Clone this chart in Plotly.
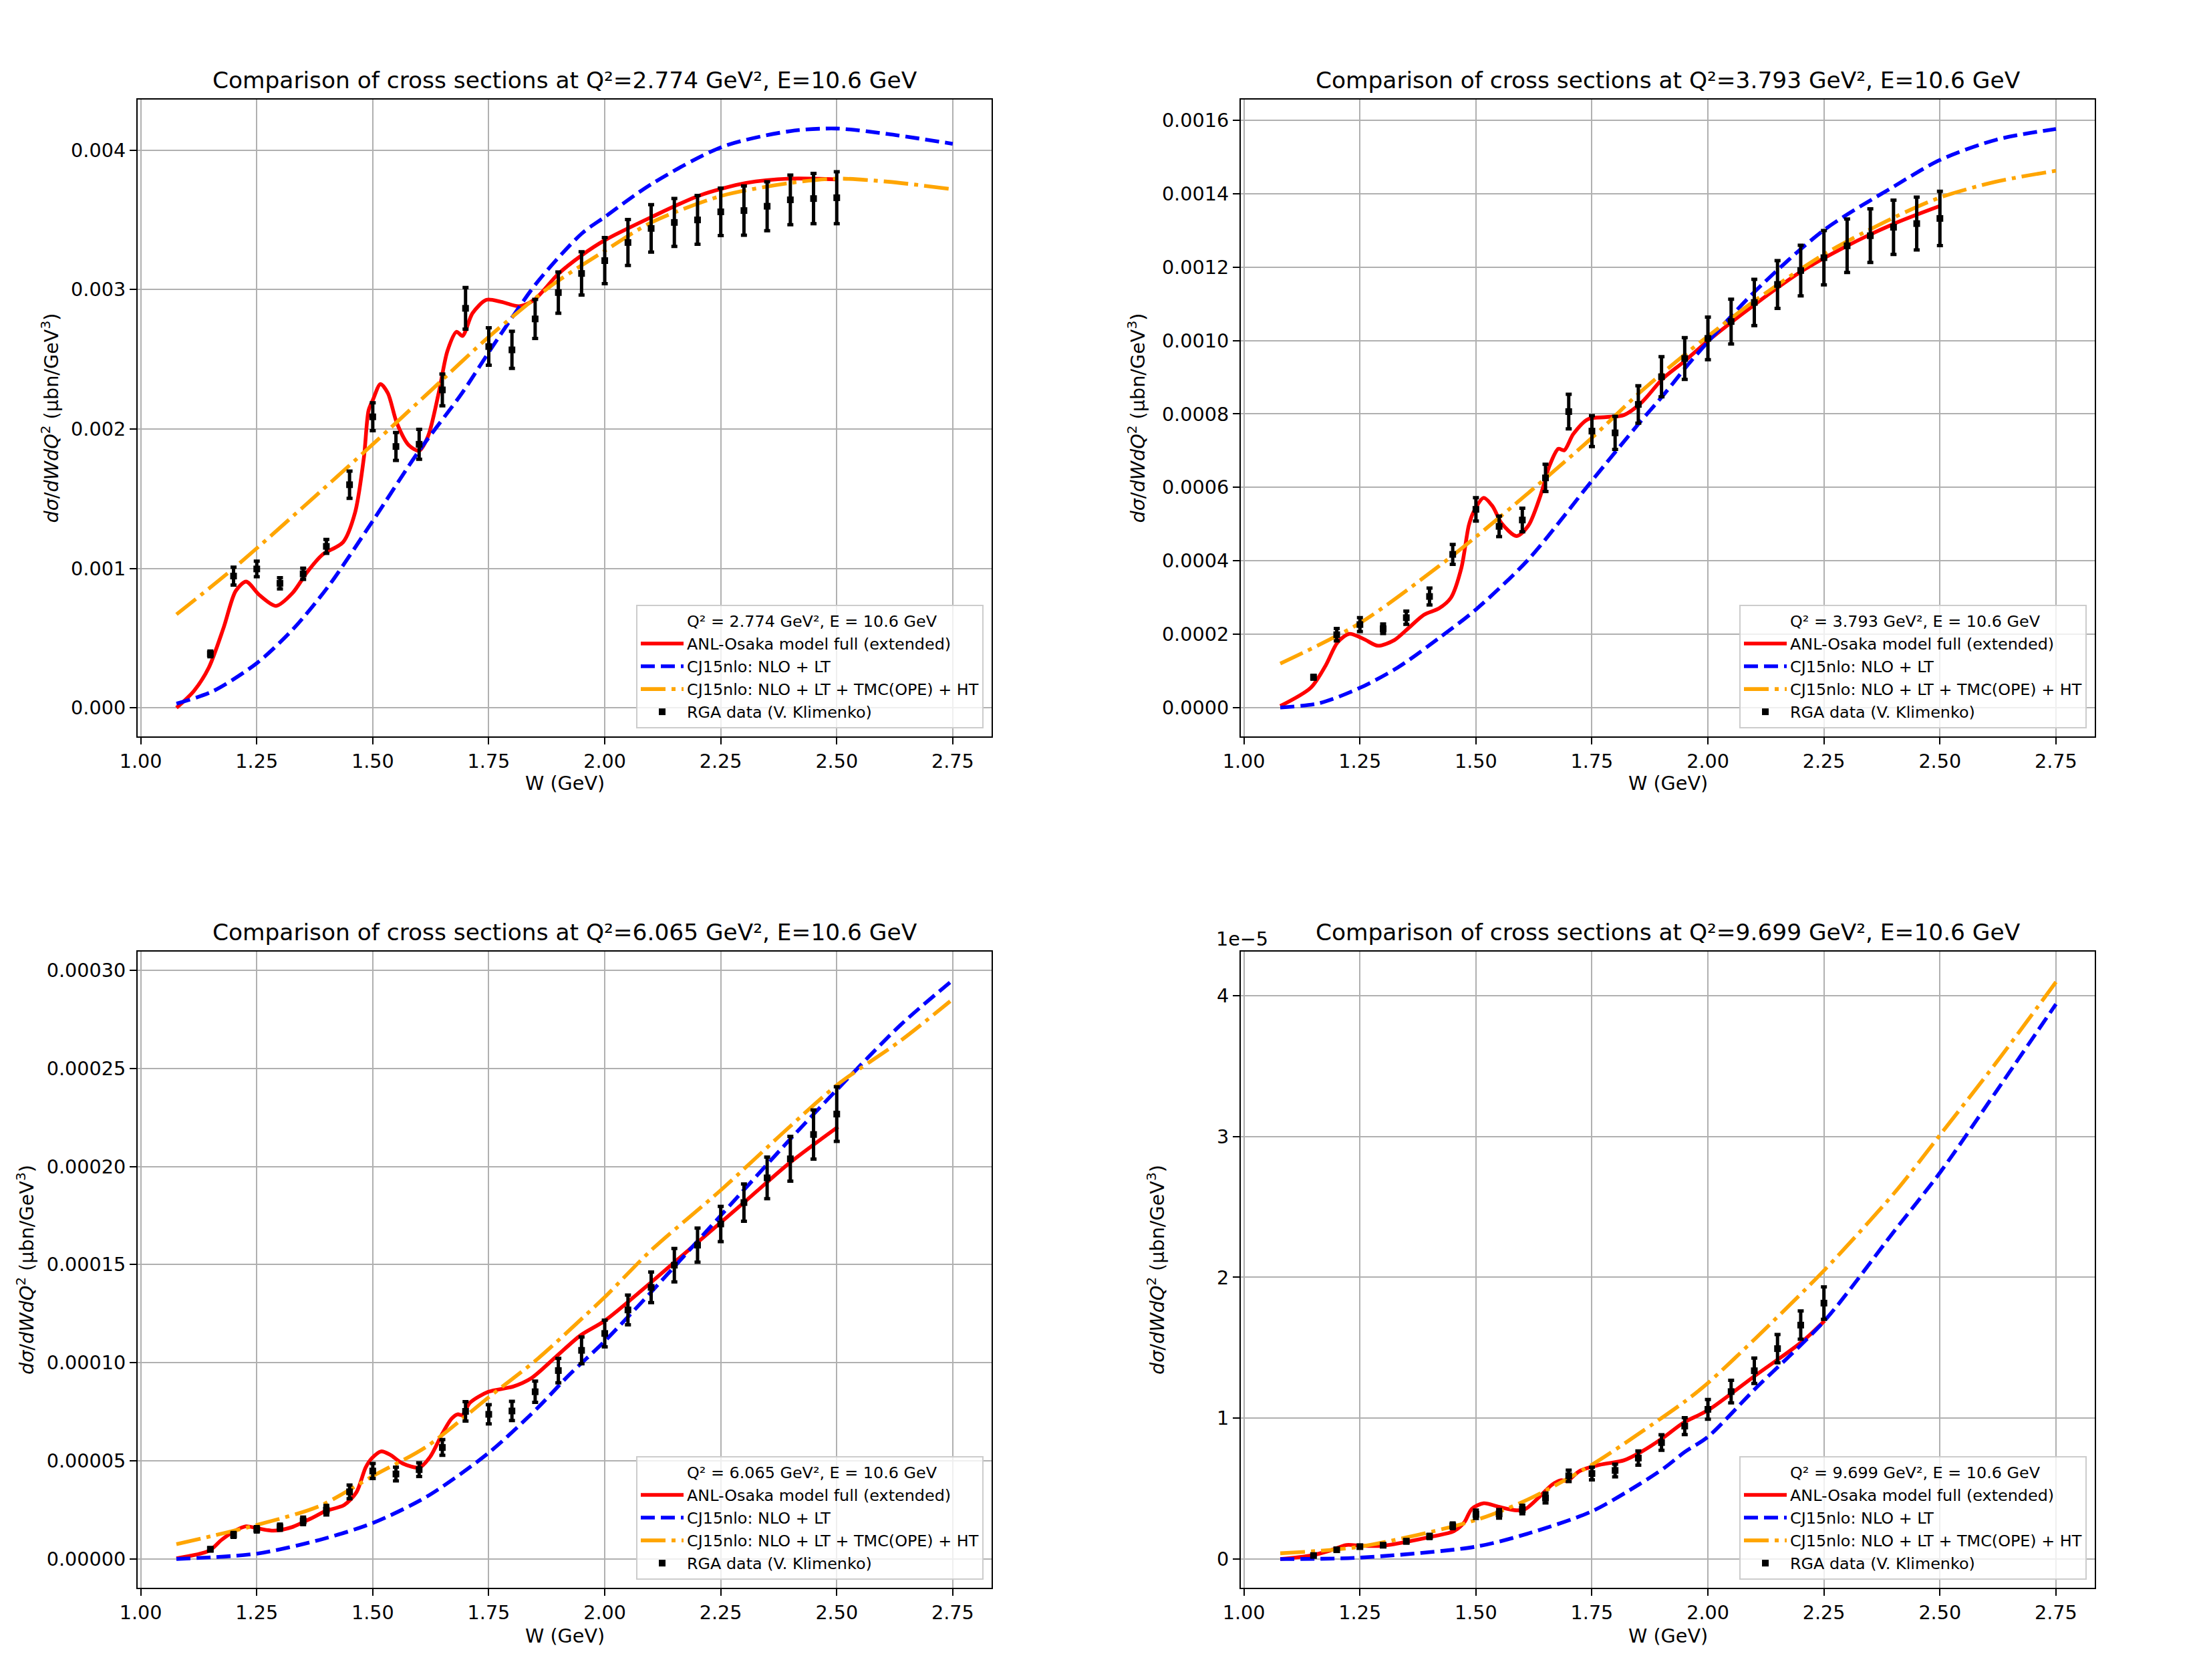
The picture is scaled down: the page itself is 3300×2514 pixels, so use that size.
import plotly.graph_objects as go

# ---------------- data ----------------
W_RGA = [1.15, 1.20, 1.25, 1.30, 1.35, 1.40, 1.45, 1.50, 1.55, 1.60, 1.65, 1.70, 1.75, 1.80,
         1.85, 1.90, 1.95, 2.00, 2.05, 2.10, 2.15, 2.20, 2.25, 2.30, 2.35, 2.40, 2.45, 2.50]
W_RGA_Q4 = [1.15, 1.20, 1.25, 1.30, 1.35, 1.40, 1.45, 1.50, 1.55, 1.60, 1.65, 1.70, 1.75, 1.80,
            1.85, 1.90, 1.95, 2.00, 2.05, 2.10, 2.15, 2.20, 2.25]

# Panel 1: Q2 = 2.774 (values in units of 1e-3)
Q1_SCALE = 1e-3
Q1_DATA = [0.387, 0.945, 0.996, 0.893, 0.961, 1.158, 1.600, 2.087, 1.874, 1.890, 2.280, 2.865,
           2.591, 2.567, 2.789, 2.978, 3.115, 3.207, 3.337, 3.438, 3.481, 3.499, 3.557, 3.566,
           3.597, 3.643, 3.652, 3.658]
Q1_ERR = [0.02, 0.064, 0.056, 0.04, 0.04, 0.05, 0.098, 0.10, 0.10, 0.107, 0.114, 0.149, 0.134,
          0.133, 0.14, 0.148, 0.155, 0.165, 0.165, 0.17, 0.172, 0.175, 0.17, 0.177, 0.175, 0.178,
          0.18, 0.186]
Q1_ANL_W = [1.077, 1.1146, 1.1467, 1.1789, 1.2046, 1.2271, 1.256, 1.2915, 1.3268, 1.359, 1.391,
            1.436, 1.462, 1.481, 1.491, 1.5005, 1.5166, 1.5327, 1.552, 1.5777, 1.600, 1.6194,
            1.642, 1.661, 1.6806, 1.6934, 1.715, 1.745, 1.777, 1.8157, 1.848, 1.899, 1.9507,
            2.0, 2.1017, 2.2033, 2.3048, 2.400, 2.50]
Q1_ANL = [0.0, 0.121, 0.289, 0.578, 0.838, 0.905, 0.808, 0.731, 0.822, 0.975, 1.097, 1.188,
          1.402, 1.798, 2.133, 2.21, 2.322, 2.256, 2.042, 1.883, 1.844, 1.95, 2.256, 2.56, 2.697,
          2.667, 2.83, 2.926, 2.911, 2.880, 2.926, 3.109, 3.246, 3.353, 3.521, 3.673, 3.764,
          3.795, 3.789]
Q1_LT_W = [1.077, 1.156, 1.25, 1.327, 1.404, 1.5, 1.597, 1.693, 1.758, 1.854, 1.95, 2.0, 2.10,
           2.253, 2.40, 2.50, 2.61, 2.75]
Q1_LT = [0.03, 0.12, 0.32, 0.56, 0.87, 1.34, 1.83, 2.26, 2.59, 3.05, 3.40, 3.52, 3.755, 4.023,
         4.136, 4.154, 4.115, 4.045]
Q1_HT_W = [1.077, 1.2, 1.35, 1.5, 1.63, 1.75, 1.89, 2.0, 2.1, 2.25, 2.4, 2.5, 2.61, 2.75]
Q1_HT = [0.67, 1.0, 1.44, 1.89, 2.29, 2.66, 3.04, 3.277, 3.48, 3.67, 3.764, 3.795, 3.773, 3.719]

# Panel 2: Q2 = 3.793 (units of 1e-4)
Q2_SCALE = 1e-4
Q2_DATA = [0.825, 1.984, 2.26, 2.145, 2.447, 3.026, 4.173, 5.40, 4.937, 5.11, 6.258, 8.065,
           7.533, 7.486, 8.26, 9.015, 9.513, 10.06, 10.52, 11.04, 11.53, 11.91, 12.26, 12.585,
           12.86, 13.09, 13.19, 13.33]
Q2_ERR = [0.05, 0.17, 0.19, 0.13, 0.18, 0.23, 0.27, 0.32, 0.28, 0.32, 0.37, 0.47, 0.42, 0.45,
          0.51, 0.545, 0.57, 0.58, 0.61, 0.63, 0.65, 0.69, 0.74, 0.73, 0.73, 0.74, 0.72, 0.74]
Q2_ANL_W = [1.0783, 1.1439, 1.176, 1.2018, 1.2275, 1.2596, 1.2886, 1.3239, 1.3561, 1.3883,
            1.4204, 1.4461, 1.4686, 1.4846, 1.4942, 1.5168, 1.5361, 1.5553, 1.5876, 1.6132,
            1.639, 1.6583, 1.6776, 1.6904, 1.7097, 1.7418, 1.7804, 1.819, 1.8576, 1.9025,
            1.9476, 2.0007, 2.1004, 2.2019, 2.3004, 2.4019, 2.5004]
Q2_ANL = [0.038, 0.535, 1.14, 1.775, 2.007, 1.857, 1.683, 1.833, 2.18, 2.528, 2.70, 2.99, 3.80,
          4.96, 5.31, 5.715, 5.48, 5.02, 4.672, 4.96, 5.77, 6.58, 7.05, 7.01, 7.45, 7.86, 7.915,
          7.97, 8.32, 8.96, 9.42, 10.0, 10.98, 11.89, 12.585, 13.19, 13.67]
Q2_LT_W = [1.0783, 1.1632, 1.25, 1.3304, 1.4204, 1.5, 1.6132, 1.75, 1.8511, 1.9064, 1.9508, 2.0,
           2.1004, 2.2497, 2.4019, 2.5004, 2.6228, 2.7501]
Q2_LT = [0.0, 0.118, 0.535, 1.08, 1.89, 2.67, 4.035, 6.18, 7.74, 8.55, 9.25, 9.965, 11.33, 13.01,
         14.21, 14.925, 15.48, 15.77]
Q2_HT_W = [1.0783, 1.25, 1.42, 1.5, 1.6132, 1.75, 1.85, 1.95, 2.0, 2.1, 2.25, 2.40, 2.50, 2.62,
           2.75]
Q2_HT = [1.195, 2.30, 3.85, 4.65, 5.85, 7.35, 8.55, 9.62, 10.12, 11.08, 12.35, 13.35, 13.9, 14.33,
         14.63]

# Panel 3: Q2 = 6.065 (units of 1e-5)
Q3_SCALE = 1e-5
Q3_DATA = [0.49, 1.225, 1.51, 1.617, 1.94, 2.485, 3.42, 4.48, 4.33, 4.55, 5.68, 7.52, 7.37,
           7.54, 8.52, 9.6, 10.63, 11.49, 12.69, 13.84, 14.97, 15.99, 17.07, 18.16, 19.42,
           20.39, 21.63, 22.67]
Q3_ERR = [0.08, 0.12, 0.14, 0.16, 0.19, 0.24, 0.35, 0.38, 0.35, 0.35, 0.40, 0.49, 0.49, 0.49,
          0.54, 0.62, 0.68, 0.68, 0.76, 0.78, 0.85, 0.87, 0.90, 0.95, 1.06, 1.14, 1.25, 1.39]
Q3_ANL_W = [1.0768, 1.1475, 1.174, 1.2005, 1.2268, 1.25, 1.2864, 1.326, 1.3658, 1.3988, 1.4385,
            1.4649, 1.4847, 1.498, 1.5179, 1.5376, 1.5641, 1.6005, 1.6236, 1.65, 1.6699,
            1.6831, 1.693, 1.7095, 1.7493, 1.8021, 1.8417, 1.8947, 1.9476, 2.0, 2.1, 2.2013,
            2.3027, 2.3983, 2.5027]
Q3_ANL = [0.03, 0.42, 0.97, 1.40, 1.66, 1.57, 1.44, 1.62, 2.05, 2.44, 2.75, 3.40, 4.66, 5.13,
          5.48, 5.31, 4.87, 4.66, 5.20, 6.39, 7.15, 7.37, 7.33, 7.96, 8.52, 8.78, 9.21, 10.30,
          11.39, 12.14, 14.10, 16.16, 18.22, 20.18, 22.02]
Q3_LT_W = [1.0768, 1.25, 1.3855, 1.5, 1.6169, 1.75, 1.855, 1.92, 1.96, 2.0, 2.1, 2.25, 2.4, 2.5,
           2.637, 2.75]
Q3_LT = [0.0, 0.27, 0.97, 1.83, 3.18, 5.41, 7.69, 9.3, 10.2, 11.1, 13.6, 17.5, 21.4, 23.9, 27.2,
         29.5]
Q3_HT_W = [1.0768, 1.25, 1.3855, 1.5, 1.6169, 1.75, 1.855, 1.9608, 2.0, 2.1, 2.2509, 2.3983,
           2.5027, 2.637, 2.7445]
Q3_HT = [0.75, 1.73, 2.70, 4.22, 5.74, 8.24, 10.19, 12.47, 13.34, 15.73, 18.81, 22.02, 24.19,
         26.40, 28.42]

# Panel 4: Q2 = 9.699 (units of 1e-5)
Q4_SCALE = 1e-5
Q4_DATA = [0.025, 0.066, 0.088, 0.098, 0.126, 0.161, 0.236, 0.318, 0.321, 0.352, 0.434, 0.591,
           0.607, 0.629, 0.717, 0.827, 0.944, 1.063, 1.189, 1.337, 1.494, 1.661, 1.817]
Q4_ERR = [0.005, 0.008, 0.01, 0.01, 0.012, 0.015, 0.02, 0.03, 0.03, 0.03, 0.035, 0.04, 0.045,
          0.045, 0.05, 0.055, 0.06, 0.07, 0.08, 0.09, 0.10, 0.10, 0.115]
Q4_ANL_W = [1.0783, 1.1439, 1.1825, 1.221, 1.2532, 1.2982, 1.3561, 1.4075, 1.4525, 1.475,
            1.4911, 1.5168, 1.549, 1.5876, 1.6069, 1.639, 1.6646, 1.6839, 1.6969, 1.7225,
            1.7676, 1.819, 1.8576, 1.9025, 1.9476, 2.0007, 2.1004, 2.2019, 2.2514]
Q4_ANL = [0.0, 0.025, 0.057, 0.10, 0.094, 0.094, 0.126, 0.161, 0.198, 0.261, 0.356, 0.396,
          0.371, 0.346, 0.356, 0.449, 0.529, 0.560, 0.554, 0.623, 0.670, 0.701, 0.764, 0.859,
          0.969, 1.057, 1.299, 1.541, 1.692]
Q4_LT_W = [1.0783, 1.25, 1.5, 1.6132, 1.75, 1.8511, 1.9064, 1.95, 2.0, 2.1004, 2.2514, 2.4019,
           2.5004, 2.6228, 2.7501]
Q4_LT = [0.0, 0.01, 0.088, 0.182, 0.339, 0.529, 0.648, 0.76, 0.868, 1.204, 1.692, 2.33, 2.745,
         3.327, 3.94]
Q4_HT_W = [1.0783, 1.25, 1.5, 1.6132, 1.75, 1.8511, 1.9508, 2.0, 2.1004, 2.2514, 2.4019, 2.5004,
           2.6228, 2.7501]
Q4_HT = [0.041, 0.088, 0.277, 0.425, 0.670, 0.89, 1.12, 1.25, 1.56, 2.053, 2.60, 3.012,
         3.531, 4.097]

Q2_LABELS = ["2.774", "3.793", "6.065", "9.699"]
BEAM_E = "10.6"

X_TICKS = [1.00, 1.25, 1.50, 1.75, 2.00, 2.25, 2.50, 2.75]
Y_TICKS_1 = [0.000, 0.001, 0.002, 0.003, 0.004]
Y_TICKS_2 = [0.0000, 0.0002, 0.0004, 0.0006, 0.0008, 0.0010, 0.0012, 0.0014, 0.0016]
Y_TICKS_3 = [0.00000, 0.00005, 0.00010, 0.00015, 0.00020, 0.00025, 0.00030]
Y_TICKS_4 = [0.0, 1e-5, 2e-5, 3e-5, 4e-5]
Y_TEXT_4 = ["0", "1", "2", "3", "4"]

# ---------------- figure ----------------
W_PX, H_PX = 3300, 2514
FONT = "DejaVu Sans"
PT = 2.865  # px per pt

RED, BLUE, ORANGE = "#ff0000", "#0000ff", "#ffa500"
LW = 5.6

fig = go.Figure()

panels = [
    dict(idx=1, scale=Q1_SCALE, w=W_RGA, d=Q1_DATA, e=Q1_ERR, aw=Q1_ANL_W, a=Q1_ANL,
         lw=Q1_LT_W, l=Q1_LT, hw=Q1_HT_W, h=Q1_HT),
    dict(idx=2, scale=Q2_SCALE, w=W_RGA, d=Q2_DATA, e=Q2_ERR, aw=Q2_ANL_W, a=Q2_ANL,
         lw=Q2_LT_W, l=Q2_LT, hw=Q2_HT_W, h=Q2_HT),
    dict(idx=3, scale=Q3_SCALE, w=W_RGA, d=Q3_DATA, e=Q3_ERR, aw=Q3_ANL_W, a=Q3_ANL,
         lw=Q3_LT_W, l=Q3_LT, hw=Q3_HT_W, h=Q3_HT),
    dict(idx=4, scale=Q4_SCALE, w=W_RGA_Q4, d=Q4_DATA, e=Q4_ERR, aw=Q4_ANL_W, a=Q4_ANL,
         lw=Q4_LT_W, l=Q4_LT, hw=Q4_HT_W, h=Q4_HT),
]

for p in panels:
    i = p["idx"]
    s = p["scale"]
    xa = "x" if i == 1 else f"x{i}"
    ya = "y" if i == 1 else f"y{i}"
    lg = "legend" if i == 1 else f"legend{i}"
    q2 = Q2_LABELS[i - 1]
    fig.add_trace(go.Scatter(x=[None], y=[None], mode="lines",
                             line=dict(color="rgba(0,0,0,0)", width=0),
                             name=f"Q² = {q2} GeV², E = {BEAM_E} GeV",
                             xaxis=xa, yaxis=ya, legend=lg))
    fig.add_trace(go.Scatter(x=p["aw"], y=[v * s for v in p["a"]], mode="lines",
                             line=dict(color=RED, width=LW, shape="spline", smoothing=0.8),
                             name="ANL-Osaka model full (extended)",
                             xaxis=xa, yaxis=ya, legend=lg))
    fig.add_trace(go.Scatter(x=p["lw"], y=[v * s for v in p["l"]], mode="lines",
                             line=dict(color=BLUE, width=LW, shape="spline", smoothing=0.8,
                                       dash="21px,9px"),
                             name="CJ15nlo: NLO + LT",
                             xaxis=xa, yaxis=ya, legend=lg))
    fig.add_trace(go.Scatter(x=p["hw"], y=[v * s for v in p["h"]], mode="lines",
                             line=dict(color=ORANGE, width=LW, shape="spline", smoothing=0.8,
                                       dash="37px,9px,6px,9px"),
                             name="CJ15nlo: NLO + LT + TMC(OPE) + HT",
                             xaxis=xa, yaxis=ya, legend=lg))
    fig.add_trace(go.Scatter(x=p["w"], y=[v * s for v in p["d"]], mode="markers",
                             marker=dict(symbol="square", size=10, color="black"),
                             error_y=dict(type="data", array=[v * s for v in p["e"]],
                                          color="black", thickness=5, width=4.5),
                             name="RGA data (V. Klimenko)",
                             xaxis=xa, yaxis=ya, legend=lg))

# axes geometry (pixels in the 3300x2514 canvas)
X_DOM = [(206, 1484), (1857, 3135), (206, 1484), (1857, 3135)]
Y_DOM = [(149, 1102), (149, 1102), (1424, 2376), (1424, 2376)]
Y_RANGES = [(-0.000205, 0.004362), (-0.0000789, 0.001657), (-0.0000147, 0.0003095),
            (-0.204e-5, 4.313e-5)]
Y_TICKS = [Y_TICKS_1, Y_TICKS_2, Y_TICKS_3, Y_TICKS_4]
Y_TEXT = [[f"{v:.3f}" for v in Y_TICKS_1], [f"{v:.4f}" for v in Y_TICKS_2],
          [f"{v:.5f}" for v in Y_TICKS_3], Y_TEXT_4]

tickfont = dict(family=FONT, size=10 * PT, color="black")
common = dict(showline=True, linecolor="black", linewidth=2.3, mirror=True,
              ticks="outside", ticklen=10, tickwidth=2.3, tickcolor="black",
              showgrid=True, gridcolor="#b0b0b0", gridwidth=2.3, zeroline=False,
              tickfont=tickfont, tickmode="array", automargin=False)

layout = dict(width=W_PX, height=H_PX,
              margin=dict(l=0, r=0, t=0, b=0, pad=0, autoexpand=False),
              paper_bgcolor="white", plot_bgcolor="white", showlegend=True)

annotations = []
for k in range(4):
    i = k + 1
    x0, x1 = X_DOM[k]
    yt, yb = Y_DOM[k]
    xd = [x0 / W_PX, x1 / W_PX]
    yd = [1 - yb / H_PX, 1 - yt / H_PX]
    xname = "xaxis" if i == 1 else f"xaxis{i}"
    yname = "yaxis" if i == 1 else f"yaxis{i}"
    xa = "x" if i == 1 else f"x{i}"
    ya = "y" if i == 1 else f"y{i}"
    layout[xname] = dict(common, domain=xd, anchor=ya, range=[0.9933, 2.8337],
                         tickvals=X_TICKS, ticktext=[f"{v:.2f}" for v in X_TICKS])
    layout[yname] = dict(common, domain=yd, anchor=xa, range=list(Y_RANGES[k]),
                         tickvals=Y_TICKS[k], ticktext=Y_TEXT[k])
    lgname = "legend" if i == 1 else f"legend{i}"
    layout[lgname] = dict(x=(x1 - 12) / W_PX, y=1 - (yb - 12) / H_PX, xanchor="right",
                          yanchor="bottom", bgcolor="rgba(255,255,255,0.8)",
                          bordercolor="#cccccc", borderwidth=2,
                          font=dict(family=FONT, size=8.33 * PT, color="black"),
                          itemwidth=64, tracegroupgap=0)
    cx = (x0 + x1) / 2
    title_y = 120 if k < 2 else 1395
    annotations.append(dict(text=f"Comparison of cross sections at Q²={Q2_LABELS[k]} GeV², E={BEAM_E} GeV",
                            x=cx / W_PX, y=1 - title_y / H_PX, xref="paper", yref="paper",
                            xanchor="center", yanchor="middle", showarrow=False,
                            font=dict(family=FONT, size=12 * PT, color="black")))
    xl_y = 1172 if k < 2 else 2448
    annotations.append(dict(text="W (GeV)", x=cx / W_PX, y=1 - xl_y / H_PX, xref="paper",
                            yref="paper", xanchor="center", yanchor="middle", showarrow=False,
                            font=dict(family=FONT, size=10 * PT, color="black")))
    yl_x = [74, 1700, 38, 1730][k]
    annotations.append(dict(text="<i>dσ</i>/<i>dWdQ</i><sup>2</sup> (μbn/GeV<sup>3</sup>)",
                            x=yl_x / W_PX, y=1 - ((yt + yb) / 2) / H_PX, xref="paper",
                            yref="paper", xanchor="center", yanchor="middle", textangle=-90,
                            showarrow=False,
                            font=dict(family=FONT, size=10 * PT, color="black")))

annotations.append(dict(text="1e−5", x=1818 / W_PX, y=1 - 1405 / H_PX, xref="paper",
                        yref="paper", xanchor="left", yanchor="middle", showarrow=False,
                        font=dict(family=FONT, size=10 * PT, color="black")))
layout["annotations"] = annotations

fig.update_layout(**layout)
fig.write_html("out.html")
